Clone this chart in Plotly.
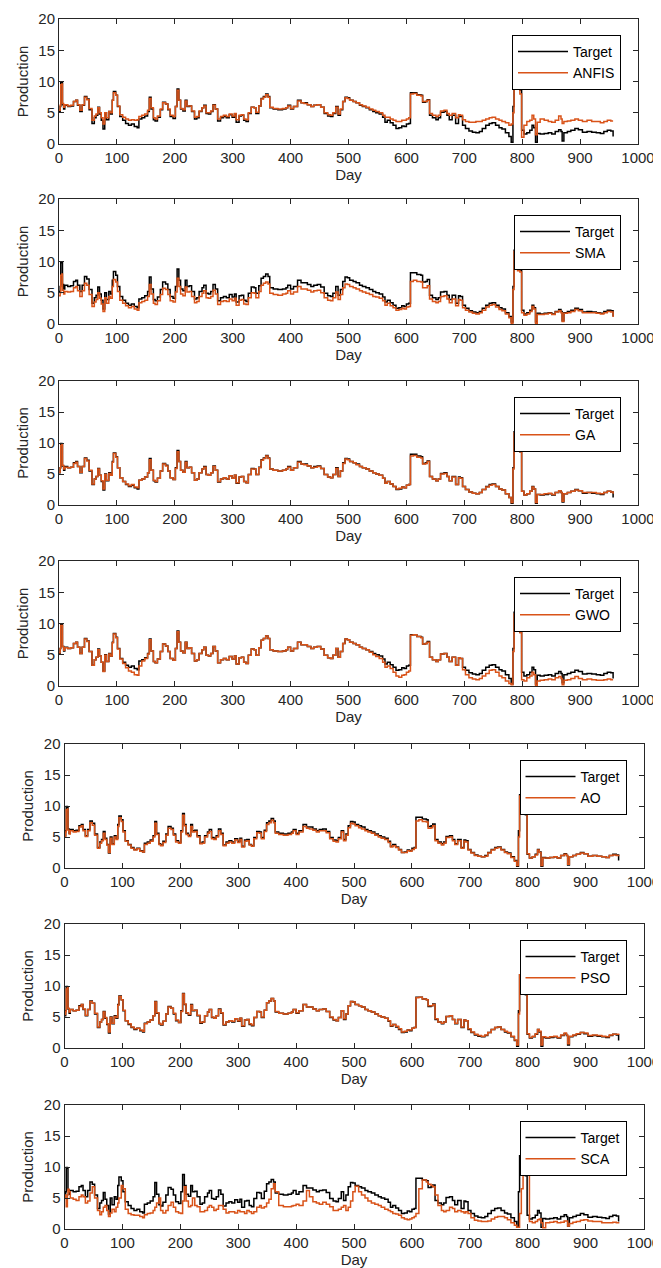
import plotly.graph_objects as go

# ---------------- data ----------------
days = [0, 2, 3, 5, 6, 8, 10, 15, 20, 25,
        29, 32, 36, 40, 44, 48, 52, 57, 61, 64,
        67, 70, 73, 76, 79, 82, 86, 89, 92, 94,
        98, 101, 105, 110, 115, 120, 125, 130, 135, 138,
        143, 148, 153, 156, 159, 163, 166, 170, 175, 179,
        184, 188, 192, 197, 201, 204, 207, 210, 214, 218,
        221, 225, 229, 234, 238, 242, 247, 250, 254, 258,
        262, 266, 270, 274, 279, 284, 289, 294, 299, 303,
        306, 311, 315, 319, 323, 327, 332, 337, 340, 345,
        349, 353, 357, 361, 364, 370, 378, 386, 392, 395,
        400, 405, 412, 418, 423, 429, 435, 440, 446, 452,
        458, 464, 469, 473, 478, 482, 486, 490, 494, 498,
        502, 508, 513, 519, 524, 530, 536, 542, 547, 553,
        559, 563, 567, 572, 577, 582, 587, 592, 596, 600,
        604, 607, 612, 618, 625, 628, 633, 636, 640, 645,
        651, 655, 659, 665, 670, 674, 679, 685, 690, 693,
        697, 702, 708, 714, 720, 726, 731, 737, 743, 748,
        754, 760, 765, 771, 777, 781, 784, 786, 789, 792,
        796, 799, 803, 808, 813, 817, 820, 823, 826, 831,
        838, 845, 851, 857, 863, 867, 869, 872, 878, 884,
        891, 897, 904, 912, 920, 928, 935, 941, 947, 953,
        957]

target = [5.2, 6.0, 9.9, 9.8, 6.3, 5.6, 6.2, 6.0, 6.1, 6.8,
          7.0, 6.2, 5.2, 6.2, 7.6, 7.2, 5.5, 3.3, 4.2, 4.6,
          5.9, 4.8, 3.8, 2.4, 5.0, 3.9, 5.2, 4.8, 7.0, 8.4,
          7.8, 6.0, 4.4, 3.8, 3.3, 3.0, 3.2, 2.8, 2.6, 4.0,
          4.2, 4.5, 5.2, 7.5, 5.6, 3.9, 3.7, 4.3, 5.5, 6.7,
          6.4, 5.5, 4.4, 4.1, 6.0, 8.8, 7.0, 5.6, 5.3, 7.0,
          6.0, 6.1, 5.2, 4.0, 4.2, 5.2, 5.8, 6.2, 4.9, 4.8,
          5.2, 6.3, 5.6, 3.7, 4.2, 4.4, 4.2, 4.7, 4.3, 4.8,
          3.5, 4.5, 4.6, 3.8, 3.6, 4.9, 5.9, 5.8, 4.9, 6.1,
          7.3, 7.6, 8.0, 7.6, 5.8, 5.6, 5.5, 5.6, 5.8, 6.2,
          5.6, 6.0, 7.0, 6.6, 6.6, 6.3, 6.0, 6.2, 6.3, 5.9,
          4.9, 4.5, 4.4, 4.9, 6.0, 4.6, 5.5, 6.8, 7.5, 7.4,
          7.0, 6.8, 6.6, 6.2, 6.0, 5.8, 5.5, 5.2, 5.0, 4.8,
          4.3, 3.5, 3.8, 3.4, 3.0, 2.5, 2.6, 2.9, 2.8, 3.2,
          3.3, 8.2, 8.2, 7.9, 7.8, 6.7, 6.8, 7.1, 4.6, 4.2,
          3.9, 4.2, 5.1, 5.2, 4.6, 3.9, 4.6, 3.3, 4.5, 4.4,
          3.0, 2.5, 2.1, 1.9, 1.8, 2.0, 2.5, 3.0, 3.3, 3.4,
          3.0, 2.6, 2.4, 1.8, 1.2, 0.3, 6.0, 11.8, 11.2, 8.8,
          8.6, 2.2, 1.6, 1.8, 2.2, 3.0, 2.6, 0.3, 1.7, 1.6,
          1.7, 1.8, 1.6, 2.0, 2.3, 2.0, 0.5, 1.8, 2.0, 2.2,
          2.5, 2.3, 1.9, 2.0, 1.9, 1.8, 1.7, 2.0, 2.2, 2.1,
          1.2]

anfis = [5.4, 6.2, 9.5, 9.6, 6.5, 5.9, 6.3, 6.1, 6.2, 6.8,
         7.0, 6.3, 5.4, 6.3, 7.5, 7.1, 5.7, 3.8, 4.5, 4.8,
         5.8, 5.0, 4.2, 3.2, 5.0, 4.2, 5.2, 5.0, 7.0, 8.2,
         7.8, 6.1, 4.7, 4.3, 4.0, 3.8, 3.9, 3.8, 3.9, 4.4,
         4.6, 4.8, 5.4, 7.3, 5.8, 4.2, 4.0, 4.5, 5.6, 6.6,
         6.4, 5.6, 4.6, 4.4, 6.0, 8.6, 7.0, 5.7, 5.5, 6.9,
         6.1, 6.1, 5.3, 4.3, 4.4, 5.3, 5.8, 6.1, 5.0, 5.0,
         5.3, 6.2, 5.6, 4.0, 4.4, 4.6, 4.4, 4.8, 4.5, 4.9,
         3.9, 4.6, 4.7, 4.0, 3.9, 5.0, 5.9, 5.8, 5.1, 6.1,
         7.2, 7.5, 7.9, 7.5, 5.9, 5.7, 5.6, 5.7, 5.8, 6.1,
         5.7, 6.0, 6.9, 6.6, 6.5, 6.3, 6.0, 6.2, 6.3, 5.9,
         5.0, 4.7, 4.6, 5.0, 5.9, 4.8, 5.6, 6.8, 7.4, 7.3,
         7.0, 6.8, 6.6, 6.3, 6.1, 5.9, 5.6, 5.4, 5.2, 5.0,
         4.6, 4.3, 4.3, 4.0, 3.8, 3.6, 3.6, 3.8, 3.8, 4.0,
         4.2, 8.0, 8.1, 7.8, 7.7, 6.8, 6.8, 7.0, 4.9, 4.6,
         4.4, 4.6, 5.3, 5.4, 4.9, 4.6, 4.9, 4.2, 4.7, 4.6,
         3.9, 3.6, 3.5, 3.5, 3.6, 3.6, 3.8, 4.0, 4.2, 4.3,
         4.0, 3.8, 3.6, 3.4, 3.0, 3.2, 5.0, 11.5, 11.0, 9.0,
         8.0, 1.1, 3.0, 3.6, 3.8, 4.6, 4.0, 1.5, 3.5, 4.0,
         3.8, 3.6, 3.5, 3.8, 4.5, 4.0, 3.3, 3.6, 3.7, 3.8,
         4.0, 3.8, 3.6, 3.8, 3.6, 3.6, 3.4, 3.6, 3.8, 3.7,
         3.7]

sma = [4.5, 5.0, 7.8, 8.0, 5.4, 4.8, 5.2, 5.1, 5.2, 5.8,
       6.0, 5.3, 4.4, 5.3, 6.5, 6.2, 4.7, 2.8, 3.5, 3.9,
       5.0, 4.1, 3.2, 2.0, 4.2, 3.3, 4.4, 4.1, 6.0, 7.1,
       6.7, 5.2, 3.8, 3.3, 2.9, 2.6, 2.8, 2.4, 2.2, 3.4,
       3.6, 3.8, 4.4, 6.3, 4.8, 3.3, 3.1, 3.7, 4.7, 5.7,
       5.5, 4.7, 3.7, 3.5, 5.1, 7.3, 6.0, 4.8, 4.5, 5.9,
       5.1, 5.2, 4.4, 3.4, 3.6, 4.4, 4.9, 5.3, 4.2, 4.1,
       4.4, 5.4, 4.8, 3.1, 3.6, 3.7, 3.6, 4.0, 3.7, 4.1,
       3.0, 3.8, 3.9, 3.2, 3.1, 4.2, 5.0, 4.9, 4.2, 5.2,
       6.2, 6.5, 6.7, 6.4, 4.9, 4.7, 4.6, 4.8, 4.9, 5.3,
       4.8, 5.1, 6.0, 5.6, 5.6, 5.4, 5.1, 5.3, 5.4, 5.0,
       4.2, 3.8, 3.7, 4.2, 5.1, 3.9, 4.7, 5.8, 6.4, 6.3,
       6.0, 5.8, 5.6, 5.3, 5.1, 4.9, 4.7, 4.4, 4.3, 4.1,
       3.7, 3.0, 3.3, 2.9, 2.6, 2.2, 2.3, 2.5, 2.4, 2.7,
       2.8, 6.8, 7.0, 6.8, 6.7, 5.8, 5.8, 6.1, 4.0, 3.6,
       3.4, 3.6, 4.4, 4.5, 4.0, 3.4, 4.0, 2.9, 3.9, 3.8,
       2.6, 2.2, 1.9, 1.7, 1.6, 1.8, 2.2, 2.7, 3.0, 3.1,
       2.7, 2.3, 2.1, 1.6, 1.0, 0.0, 5.5, 11.6, 11.0, 8.5,
       8.3, 1.8, 1.4, 1.6, 2.0, 2.8, 2.4, 0.1, 1.5, 1.5,
       1.6, 1.7, 1.5, 1.9, 2.1, 1.8, 0.4, 1.7, 1.8, 2.0,
       2.3, 2.1, 1.8, 1.8, 1.8, 1.7, 1.6, 1.8, 2.0, 1.9,
       1.1]

ga = [5.3, 6.0, 9.6, 9.7, 6.4, 5.8, 6.1, 6.0, 6.1, 6.7,
      6.9, 6.2, 5.3, 6.2, 7.5, 7.1, 5.6, 3.4, 4.2, 4.6,
      5.8, 4.8, 3.9, 2.6, 4.9, 4.0, 5.1, 4.8, 6.9, 8.3,
      7.7, 6.0, 4.4, 3.8, 3.4, 3.1, 3.3, 2.9, 2.8, 4.0,
      4.2, 4.5, 5.2, 7.3, 5.6, 4.0, 3.8, 4.3, 5.5, 6.6,
      6.3, 5.5, 4.4, 4.1, 5.9, 8.6, 7.0, 5.6, 5.3, 6.9,
      6.0, 6.1, 5.2, 4.0, 4.2, 5.2, 5.8, 6.1, 4.9, 4.8,
      5.2, 6.2, 5.6, 3.8, 4.2, 4.4, 4.2, 4.7, 4.3, 4.8,
      3.6, 4.5, 4.6, 3.8, 3.6, 4.9, 5.8, 5.8, 4.9, 6.0,
      7.2, 7.5, 7.9, 7.5, 5.8, 5.6, 5.5, 5.6, 5.8, 6.1,
      5.6, 6.0, 6.9, 6.6, 6.5, 6.3, 6.0, 6.1, 6.2, 5.9,
      4.9, 4.5, 4.4, 4.9, 5.9, 4.6, 5.5, 6.7, 7.4, 7.3,
      7.0, 6.8, 6.5, 6.2, 6.0, 5.8, 5.5, 5.2, 5.0, 4.8,
      4.3, 3.5, 3.8, 3.4, 3.0, 2.6, 2.7, 2.9, 2.8, 3.2,
      3.3, 7.9, 8.0, 7.7, 7.6, 6.6, 6.7, 7.0, 4.6, 4.2,
      3.9, 4.2, 5.0, 5.1, 4.6, 3.9, 4.5, 3.3, 4.4, 4.3,
      3.0, 2.5, 2.1, 1.9, 1.8, 2.0, 2.5, 2.9, 3.2, 3.3,
      3.0, 2.6, 2.4, 1.8, 1.2, 0.4, 5.8, 11.6, 11.2, 8.8,
      8.6, 2.2, 1.6, 1.8, 2.2, 2.9, 2.6, 0.4, 1.7, 1.7,
      1.8, 1.9, 1.7, 2.0, 2.3, 2.0, 0.6, 1.8, 2.0, 2.2,
      2.4, 2.3, 2.0, 2.0, 2.0, 1.9, 1.8, 2.0, 2.2, 2.1,
      1.8]

gwo = [5.3, 6.0, 9.7, 9.7, 6.3, 5.7, 6.1, 6.0, 6.1, 6.8,
       7.0, 6.2, 5.2, 6.2, 7.5, 7.1, 5.5, 3.3, 4.2, 4.6,
       5.8, 4.8, 3.8, 2.3, 4.9, 3.9, 5.1, 4.8, 6.9, 8.3,
       7.7, 5.9, 4.3, 3.6, 2.9, 2.4, 2.2, 1.8, 1.7, 3.2,
       4.0, 4.4, 5.1, 7.4, 5.6, 3.9, 3.7, 4.3, 5.5, 6.7,
       6.4, 5.5, 4.4, 4.1, 6.0, 8.7, 7.0, 5.6, 5.3, 7.0,
       6.0, 6.1, 5.2, 4.0, 4.2, 5.2, 5.8, 6.2, 4.9, 4.8,
       5.2, 6.3, 5.6, 3.7, 4.2, 4.4, 4.2, 4.7, 4.3, 4.8,
       3.5, 4.5, 4.6, 3.8, 3.6, 4.9, 5.9, 5.8, 4.9, 6.1,
       7.3, 7.6, 8.0, 7.6, 5.8, 5.6, 5.5, 5.6, 5.8, 6.2,
       5.6, 6.0, 7.0, 6.6, 6.6, 6.3, 6.0, 6.2, 6.3, 5.9,
       4.9, 4.5, 4.4, 4.9, 6.0, 4.6, 5.5, 6.8, 7.5, 7.4,
       7.0, 6.8, 6.6, 6.2, 6.0, 5.8, 5.4, 5.0, 4.7, 4.4,
       3.8, 3.0, 3.2, 2.8, 2.2, 1.6, 1.4, 1.7, 1.8, 2.2,
       2.4, 8.1, 8.2, 7.9, 7.7, 6.7, 6.8, 7.0, 4.6, 4.2,
       3.9, 4.2, 5.1, 5.2, 4.6, 3.9, 4.6, 3.3, 4.5, 4.4,
       2.6, 1.8, 1.3, 1.1, 1.0, 1.2, 1.6, 2.0, 2.5, 2.6,
       2.2, 1.6, 1.3, 0.8, 0.4, 0.2, 5.5, 11.5, 11.6, 9.0,
       8.5, 1.0, 0.8, 1.3, 1.6, 2.2, 1.8, 0.0, 0.8, 0.9,
       1.0, 1.1, 1.0, 1.3, 1.5, 1.2, 0.2, 0.9, 1.0, 1.2,
       1.5, 1.2, 1.0, 1.1, 1.0, 0.9, 0.9, 1.0, 1.1, 1.0,
       1.0]

ao = [5.1, 5.8, 9.4, 9.5, 6.1, 5.5, 6.0, 5.8, 5.9, 6.6,
      6.8, 6.0, 5.1, 6.0, 7.3, 6.9, 5.3, 3.2, 4.0, 4.4,
      5.6, 4.6, 3.7, 2.5, 4.8, 3.8, 5.0, 4.6, 6.7, 8.1,
      7.5, 5.8, 4.3, 3.7, 3.2, 2.9, 3.1, 2.7, 2.6, 3.8,
      4.0, 4.3, 5.0, 7.2, 5.4, 3.8, 3.6, 4.1, 5.3, 6.4,
      6.2, 5.3, 4.2, 4.0, 5.8, 8.5, 6.8, 5.4, 5.1, 6.7,
      5.8, 5.9, 5.0, 3.9, 4.0, 5.0, 5.6, 5.9, 4.7, 4.6,
      5.0, 6.0, 5.4, 3.6, 4.0, 4.2, 4.0, 4.5, 4.1, 4.6,
      3.4, 4.3, 4.4, 3.7, 3.5, 4.7, 5.7, 5.6, 4.7, 5.9,
      7.0, 7.3, 7.7, 7.3, 5.6, 5.4, 5.3, 5.4, 5.6, 6.0,
      5.4, 5.8, 6.7, 6.4, 6.3, 6.1, 5.8, 6.0, 6.0, 5.7,
      4.7, 4.3, 4.2, 4.7, 5.8, 4.4, 5.3, 6.5, 7.2, 7.1,
      6.8, 6.5, 6.3, 6.0, 5.8, 5.6, 5.3, 5.0, 4.8, 4.6,
      4.1, 3.4, 3.6, 3.3, 2.9, 2.5, 2.5, 2.8, 2.7, 3.0,
      3.2, 7.6, 7.8, 7.5, 7.4, 6.4, 6.5, 6.8, 4.4, 4.0,
      3.7, 4.0, 4.9, 5.0, 4.4, 3.8, 4.4, 3.2, 4.3, 4.2,
      2.9, 2.4, 2.0, 1.9, 1.8, 1.9, 2.4, 2.9, 3.2, 3.3,
      2.9, 2.5, 2.3, 1.7, 1.1, 0.4, 5.0, 11.6, 11.3, 9.0,
      8.7, 2.3, 1.6, 1.8, 2.1, 2.9, 2.5, 0.4, 1.6, 1.6,
      1.7, 1.8, 1.6, 2.0, 2.2, 2.0, 0.6, 1.8, 2.0, 2.2,
      2.4, 2.3, 1.9, 2.0, 1.9, 1.8, 1.7, 2.0, 2.1, 2.0,
      1.9]

pso = [5.4, 5.9, 9.5, 9.7, 6.4, 5.8, 6.2, 6.0, 6.1, 6.7,
       7.0, 6.3, 5.3, 6.2, 7.5, 7.2, 5.6, 3.4, 4.2, 4.6,
       5.8, 4.9, 3.9, 2.6, 4.9, 4.0, 5.1, 4.9, 6.9, 8.3,
       7.8, 6.1, 4.4, 3.9, 3.4, 3.1, 3.2, 2.9, 2.7, 3.9,
       4.2, 4.5, 5.2, 7.4, 5.7, 4.0, 3.8, 4.3, 5.5, 6.6,
       6.4, 5.6, 4.5, 4.1, 5.9, 8.7, 7.1, 5.7, 5.4, 6.9,
       6.1, 6.1, 5.3, 4.1, 4.2, 5.2, 5.8, 6.2, 5.0, 4.8,
       5.2, 6.2, 5.7, 3.8, 4.2, 4.4, 4.3, 4.7, 4.4, 4.8,
       3.6, 4.5, 4.6, 3.9, 3.7, 4.9, 5.9, 5.8, 5.0, 6.1,
       7.3, 7.6, 8.0, 7.6, 5.9, 5.6, 5.5, 5.6, 5.8, 6.2,
       5.7, 6.0, 7.0, 6.6, 6.6, 6.3, 6.0, 6.2, 6.3, 5.9,
       5.0, 4.6, 4.4, 4.9, 6.0, 4.7, 5.5, 6.8, 7.5, 7.4,
       7.0, 6.8, 6.6, 6.2, 6.0, 5.8, 5.5, 5.2, 5.0, 4.8,
       4.4, 3.6, 3.8, 3.5, 3.1, 2.6, 2.7, 2.9, 2.9, 3.2,
       3.3, 8.1, 8.2, 7.9, 7.8, 6.8, 6.8, 7.0, 4.7, 4.2,
       4.0, 4.2, 5.1, 5.2, 4.6, 4.0, 4.6, 3.4, 4.5, 4.4,
       3.1, 2.6, 2.2, 2.0, 1.9, 2.1, 2.5, 3.0, 3.3, 3.4,
       3.0, 2.7, 2.5, 1.9, 1.3, 0.5, 5.5, 11.8, 11.3, 9.0,
       8.7, 2.3, 1.7, 1.9, 2.3, 3.0, 2.7, 0.5, 1.8, 1.7,
       1.8, 1.9, 1.7, 2.1, 2.4, 2.1, 0.7, 1.9, 2.1, 2.3,
       2.5, 2.4, 2.0, 2.1, 2.0, 1.9, 1.8, 2.1, 2.2, 2.2,
       2.1]

sca = [5.5, 5.0, 3.6, 5.5, 6.4, 6.0, 5.0, 4.8, 4.6, 5.2,
       5.5, 5.2, 4.2, 4.5, 5.8, 6.8, 5.0, 3.0, 2.3, 2.8,
       3.5, 3.8, 3.0, 2.0, 2.6, 3.2, 2.8, 3.5, 4.2, 5.0,
       7.0, 6.5, 3.2, 2.5, 2.3, 2.2, 2.2, 2.0, 1.8, 2.3,
       2.5, 2.6, 3.0, 3.5, 4.2, 5.0, 3.0, 2.6, 3.0, 3.8,
       4.3, 3.5, 2.8, 2.6, 2.5, 4.5, 6.8, 4.5, 3.6, 3.8,
       5.0, 3.8, 3.6, 2.8, 2.8, 3.0, 3.5, 3.8, 3.5, 3.0,
       3.2, 3.8, 3.8, 3.2, 2.6, 2.8, 2.8, 2.6, 3.0, 2.8,
       2.8, 2.5, 3.0, 2.8, 2.5, 2.8, 3.5, 3.8, 3.4, 3.6,
       4.2, 4.8, 6.5, 7.3, 6.0, 3.8, 3.6, 3.6, 3.7, 3.8,
       4.0, 3.8, 4.5, 6.2, 5.2, 4.4, 4.2, 4.0, 4.3, 4.0,
       3.6, 3.0, 3.0, 3.2, 3.5, 3.8, 3.0, 3.5, 4.5, 6.0,
       6.9, 6.0, 5.5, 5.0, 4.5, 4.2, 4.0, 3.8, 3.5, 3.2,
       3.0, 2.8, 2.5, 2.4, 2.2, 1.8, 1.6, 1.5, 1.6, 1.8,
       2.0, 2.5, 6.5, 7.9, 7.6, 7.2, 7.0, 6.8, 5.5, 3.8,
       3.0, 2.8, 3.0, 3.5, 3.3, 2.8, 3.0, 2.8, 2.6, 2.8,
       2.5, 1.8, 1.4, 1.3, 1.2, 1.2, 1.3, 1.6, 1.9, 2.0,
       2.0, 1.8, 1.5, 1.0, 0.6, 0.3, 0.3, 2.5, 6.5, 11.0,
       10.5, 8.7, 1.2, 1.0, 1.2, 1.5, 1.6, 1.0, 0.2, 1.0,
       1.1, 1.2, 1.0, 1.1, 1.3, 1.3, 0.5, 0.9, 1.1, 1.2,
       1.4, 1.5, 1.3, 1.2, 1.2, 1.0, 1.0, 1.0, 1.1, 1.0,
       0.9]

model_names = ["ANFIS", "SMA", "GA", "GWO", "AO", "PSO", "SCA"]
model_values = [anfis, sma, ga, gwo, ao, pso, sca]

x_ticks = [0, 100, 200, 300, 400, 500, 600, 700, 800, 900, 1000]
y_ticks = [0, 5, 10, 15, 20]

# ---------------- layout geometry (pixels in the reference window) -------
OFF = 8                      # the page body adds an 8 px margin
W, H = 661 - OFF, 1268 - OFF
panels = [(59, 638, 19, 144), (59, 638, 199, 324), (59, 638, 381, 505),
          (59, 638, 561, 686), (64.5, 643.5, 744, 868),
          (64.5, 643.5, 924, 1048), (64.5, 643.5, 1105, 1229)]


def fx(p):
    return (p - OFF) / W


def fy(p):
    return 1 - (p - OFF) / H


FONT = "Liberation Sans, Arial, Helvetica, sans-serif"
AX = "#262626"
ORANGE = "#D95319"

fig = go.Figure()
layout = dict(
    template="none",
    width=W, height=H, margin=dict(l=0, r=0, t=0, b=0, pad=0),
    paper_bgcolor="white", plot_bgcolor="white",
    font=dict(family=FONT, size=15, color=AX),
    showlegend=True,
)

for i, (name, vals) in enumerate(zip(model_names, model_values)):
    k = i + 1
    sfx = "" if k == 1 else str(k)
    lg = "legend" + sfx
    fig.add_trace(go.Scatter(x=days, y=target, mode="lines", name="Target",
                             line=dict(color="black", width=1.5, shape="hv"),
                             xaxis="x" + sfx, yaxis="y" + sfx, legend=lg))
    fig.add_trace(go.Scatter(x=days, y=vals, mode="lines", name=name,
                             line=dict(color=ORANGE, width=1.5, shape="hv"),
                             xaxis="x" + sfx, yaxis="y" + sfx, legend=lg))
    x0, x1, y0, y1 = panels[i]
    common = dict(showgrid=False, zeroline=False, showline=True, linecolor=AX,
                  linewidth=1, mirror="ticks", ticks="inside", ticklen=5,
                  tickcolor=AX, tickwidth=1, automargin=False,
                  tickfont=dict(size=15, color=AX))
    layout["xaxis" + sfx] = dict(
        domain=[fx(x0), fx(x1)], anchor="y" + sfx, range=[0, 1000],
        tickvals=x_ticks, title=dict(text="Day", standoff=2,
                                     font=dict(size=15, color=AX)),
        **common)
    layout["yaxis" + sfx] = dict(
        domain=[fy(y1), fy(y0)], anchor="x" + sfx, range=[0, 20],
        tickvals=y_ticks, title=dict(text="Production", standoff=6,
                                     font=dict(size=15, color=AX)),
        **common)
    layout[lg] = dict(
        x=fx(x1 - 17), y=fy(y0 + 16), xanchor="right", yanchor="top",
        bgcolor="white", bordercolor="black", borderwidth=1,
        font=dict(size=14, color="black", family=FONT),
        itemwidth=50, tracegroupgap=0)

fig.update_layout(**layout)
fig.write_html("out.html")
